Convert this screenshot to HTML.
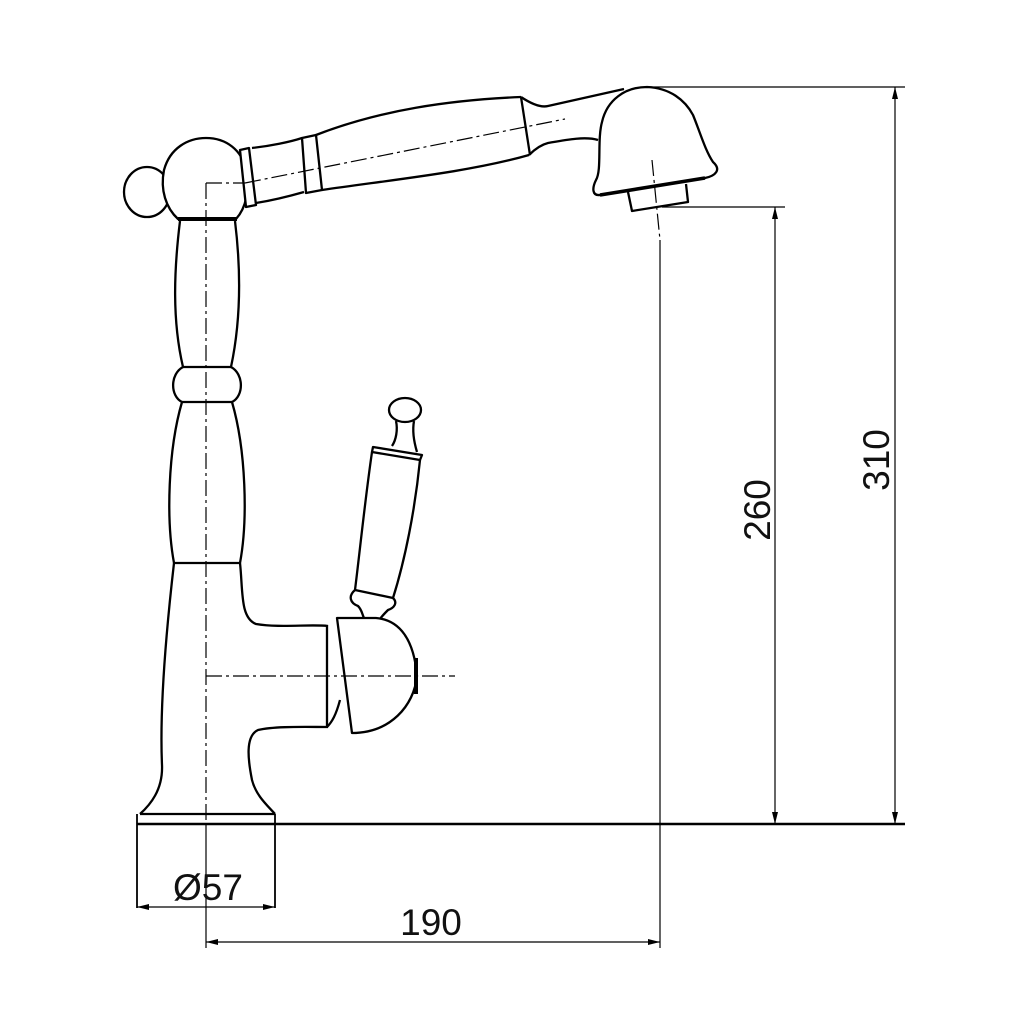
<!DOCTYPE html>
<html><head><meta charset="utf-8"><style>
html,body{margin:0;padding:0;background:#fff;}
svg{display:block}
text{font-family:"Liberation Sans",sans-serif;fill:#111;}
</style></head><body>
<svg width="1024" height="1024" viewBox="0 0 1024 1024" xmlns="http://www.w3.org/2000/svg">
<defs>
<marker id="a" viewBox="0 0 12 6" refX="12" refY="3" markerWidth="12" markerHeight="6" orient="auto-start-reverse" markerUnits="userSpaceOnUse">
<path d="M0,0 L12,3 L0,6 Z" fill="#000"/></marker>
</defs>
<rect width="1024" height="1024" fill="#fff"/>
<g fill="none" stroke="#000" stroke-width="2.3" stroke-linejoin="round">
<ellipse cx="147" cy="192" rx="23" ry="25" fill="#fff"/>
<path d="M178,219 C166,208 160,190 164,170 C170,148 188,138 206,138 C226,138 242,150 246,170 C250,190 246,208 236,219 Z" fill="#fff"/>
<line x1="178" y1="219" x2="237" y2="219" stroke-width="4"/>
<path d="M180,221 C174,270 172,320 183,367 M235,221 C241,270 241,320 231,367"/>
<line x1="183" y1="367" x2="231" y2="367"/>
<path d="M183,367 C170,374 170,396 182,402 M231,367 C244,374 244,396 232,402"/>
<line x1="182" y1="402" x2="232" y2="402"/>
<path d="M182,402 C168,450 166,520 174,563 M232,402 C246,450 248,520 240,563"/>
<line x1="174" y1="563" x2="240" y2="563"/>
<path d="M174,563 C164,650 160,720 162,765 C163,790 150,805 140,814"/>
<path d="M240,563 C243,590 240,618 256,624 C280,628 310,624 328,626"/>
<path d="M328,727 C305,727 275,726 258,730 C245,736 248,760 252,780 C256,796 268,806 275,814"/>
<line x1="327" y1="625" x2="327" y2="727"/>
<line x1="140" y1="814" x2="275" y2="814"/>
<line x1="137" y1="814" x2="137" y2="908" stroke-width="1.8"/>
<line x1="275" y1="814" x2="275" y2="908" stroke-width="1.8"/>
<line x1="137" y1="824" x2="905" y2="824" stroke-width="2.5"/>
<path d="M337,618 L376,618 C400,620 414,640 417,676 C414,706 390,733 352,733 L337,618 Z" fill="#fff"/>
<path d="M340,700 C336,715 332,722 327,727"/>
<line x1="416" y1="658" x2="416" y2="694" stroke-width="4"/>
<ellipse cx="405" cy="410" rx="16" ry="12" fill="#fff"/>
<path d="M396,421 C398,430 396,440 392,446 M414,421 C412,432 414,442 417,452"/>
<path d="M373,447 L422,455 L420,460 L372,452 Z" fill="#fff"/>
<path d="M372,452 C365,500 360,550 355,590 M420,460 C415,510 405,560 393,598"/>
<path d="M355,590 C348,596 350,603 358,606 C362,610 362,614 364,618 M393,598 C398,603 394,608 388,610 C384,614 382,616 380,619"/>
<line x1="355" y1="590" x2="393" y2="598"/>
<path d="M240,150 L249,148 L256,205 L246,207 Z" fill="#fff"/>
<path d="M252,148 C270,146 290,142 302,138 M256,203 C275,200 290,196 304,192"/>
<path d="M302,138 L316,135 L322,190 L306,193 Z" fill="#fff"/>
<path d="M316,135 C380,110 450,100 521,97 M322,190 C390,180 470,172 529,155"/>
<line x1="521" y1="97" x2="530" y2="155"/>
<path d="M521,97 C530,103 540,108 548,106 L624,89 M529,155 C534,150 540,145 548,143 C565,140 585,136 598,140"/>
<path d="M647,87 C670,88 685,100 693,115 C700,132 705,150 713,162 C722,170 715,176 705,178 L600,195 C592,196 592,188 596,180 C602,170 597,140 602,122 C607,100 625,87 647,87 Z" fill="#fff"/>
<path d="M600,195 L705,178" stroke-width="3.5"/>
<path d="M628,192 L632,211 L688,202 L686,184"/>
</g>
<g fill="none" stroke="#000" stroke-width="1.2" stroke-dasharray="16,4,3,4">
<line x1="206" y1="183" x2="206" y2="824"/>
<line x1="206" y1="183" x2="245" y2="183"/>
<line x1="245" y1="183" x2="565" y2="119"/>
<line x1="206" y1="676" x2="455" y2="676"/>
<line x1="652" y1="160" x2="660" y2="240"/>
</g>
<g fill="none" stroke="#000" stroke-width="1.2">
<line x1="206" y1="824" x2="206" y2="948"/>
<line x1="660" y1="240" x2="660" y2="948"/>
<line x1="647" y1="87" x2="905" y2="87"/>
<line x1="662" y1="207" x2="785" y2="207"/>
<line x1="137" y1="907" x2="275" y2="907" marker-start="url(#a)" marker-end="url(#a)"/>
<line x1="206" y1="942" x2="660" y2="942" marker-start="url(#a)" marker-end="url(#a)"/>
<line x1="775" y1="207" x2="775" y2="824" marker-start="url(#a)" marker-end="url(#a)"/>
<line x1="895" y1="87" x2="895" y2="824" marker-start="url(#a)" marker-end="url(#a)"/>
</g>
<text x="208" y="900" font-size="37" text-anchor="middle">Ø57</text>
<text x="431" y="935" font-size="37" text-anchor="middle">190</text>
<text transform="translate(770,510) rotate(-90)" font-size="37" text-anchor="middle">260</text>
<text transform="translate(889,460) rotate(-90)" font-size="37" text-anchor="middle">310</text>
</svg>
</body></html>
